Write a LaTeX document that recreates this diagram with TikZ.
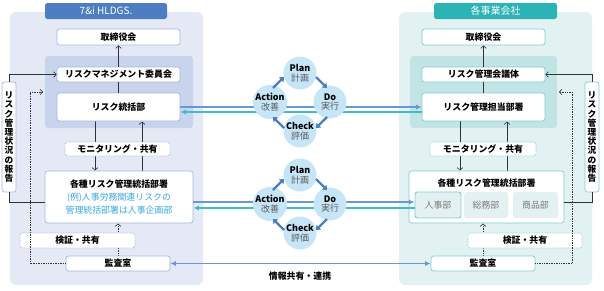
\documentclass[tikz,border=0pt]{standalone}
\usepackage{fontspec}
\setmainfont{Noto Sans CJK JP}
\usetikzlibrary{arrows.meta,calc}
\definecolor{hdblue}{HTML}{4D7EC1}
\definecolor{panelblue}{HTML}{E5E9F5}
\definecolor{innerblue}{HTML}{C8D3EC}
\definecolor{edgeblue}{HTML}{A3B8E0}
\definecolor{hdteal}{HTML}{2BB3B6}
\definecolor{panelteal}{HTML}{E2F2F2}
\definecolor{innerteal}{HTML}{C3E4E5}
\definecolor{edgeteal}{HTML}{7CCED2}
\definecolor{lineblue}{HTML}{6A95D6}
\definecolor{lineteal}{HTML}{3BBFC2}
\definecolor{pdfill}{HTML}{C6E6F8}
\definecolor{pdarrow}{HTML}{4A7FC4}
\definecolor{exblue}{HTML}{3AA8E2}
\definecolor{subfill}{HTML}{E4F1F2}
\definecolor{subtext}{HTML}{7A7A7A}
\pgfdeclarelayer{panel}
\pgfdeclarelayer{wire}
\pgfdeclarelayer{front}
\pgfsetlayers{panel,wire,main,front}

\tikzset{
  sz/.style 2 args={minimum width=#1pt,minimum height=#2pt},
  jtext/.style={font=\fontsize{8.9}{10}\selectfont\bfseries},
  boxL/.style={draw=edgeblue,fill=white,rounded corners=2.5pt,line width=0.7pt,inner sep=0pt,jtext},
  boxR/.style={draw=edgeteal,fill=white,rounded corners=2.5pt,line width=0.7pt,inner sep=0pt,jtext},
  dotL/.style={boxL,dash pattern=on 0.7pt off 0.9pt},
  dotR/.style={boxR,dash pattern=on 0.7pt off 0.9pt},
  header/.style={fill=#1,rounded corners=2.5pt,inner sep=0pt,text=white,font=\fontsize{10}{11}\selectfont},
  tate/.style={align=center,font=\fontsize{8.7}{9.2}\selectfont\bfseries},
  subbox/.style={fill=subfill,rounded corners=2.5pt,inner sep=0pt,text=subtext,font=\fontsize{8.9}{10}\selectfont},
  pdca/.style={circle,fill=pdfill,minimum size=33pt,inner sep=0pt,align=center,font=\fontsize{9}{9.6}\selectfont},
  pdarr/.style={draw=pdarrow,line width=2.3pt,-{Triangle[length=4pt,width=6.5pt]}},
  wire/.style={draw=black!80,line width=0.6pt},
  tip/.style={-{Straight Barb[length=2.6pt,width=5.5pt]}},
  dotwire/.style={wire,dash pattern=on 0.8pt off 0.9pt},
  blueline/.style={draw=lineblue,line width=1.1pt},
  tealline/.style={draw=lineteal,line width=1.1pt},
  filltip/.style={-{Latex[length=5.5pt,width=5pt]}}
}

\begin{document}
\begin{tikzpicture}[x=1pt,y=-1pt]
\useasboundingbox (0,0) rectangle (604,290);

% background panels
\begin{pgfonlayer}{panel}
  \fill[panelblue,rounded corners=6pt] (10,12) rectangle (203,285);
  \fill[innerblue,rounded corners=3pt] (45,56) rectangle (193,128);
  \fill[panelteal,rounded corners=6pt] (399,12) rectangle (592,285);
  \fill[innerteal,rounded corners=3pt] (410,56) rectangle (557,128);
\end{pgfonlayer}

% 7&i HLDGS.
\node[header=hdblue,sz={122}{16}] (hdrL) at (106,11) {7\&i HLDGS.};
\node[boxL,sz={123}{16}] (boardL) at (118.5,37) {取締役会};
\node[boxL,sz={123}{15}] (cmteL) at (118.5,74.5) {リスクマネジメント委員会};
\node[boxL,sz={123}{28}] (tokatsuL) at (118.5,107) {リスク統括部};
\node[dotL,sz={105}{14}] (monL) at (117.5,149) {モニタリング・共有};
\node[boxL,sz={148}{52},align=center,font=\fontsize{8.9}{13}\selectfont] (kakushuL) at (119,197)
  {\bfseries 各種リスク管理統括部署\\{\color{exblue}(例)人事労務関連リスクの}\\{\color{exblue}管理統括部署は人事企画部}};
\node[dotL,sz={115}{15}] (kenshoL) at (77.5,240.5) {検証・共有};
\node[boxL,sz={104}{15}] (kansaL) at (118,263.5) {監査室};
\node[boxL,sz={14}{110},tate] (reportL) at (9,137) {リ\\ス\\ク\\管\\理\\状\\況\\の\\報\\告};

% 各事業会社
\node[header=hdteal,sz={123}{16}] (hdrR) at (495.5,11) {各事業会社};
\node[boxR,sz={123}{16}] (boardR) at (483.5,37) {取締役会};
\node[boxR,sz={123}{15}] (cmteR) at (483.5,74.5) {リスク管理会議体};
\node[boxR,sz={123}{28}] (tantoR) at (483.5,107) {リスク管理担当部署};
\node[dotR,sz={106}{14}] (monR) at (483,149) {モニタリング・共有};
\node[boxR,sz={155}{52}] (kakushuR) at (486.5,197) {};
\node[jtext] (kakushuRt) at (486.5,183) {各種リスク管理統括部署};
\node[subbox,draw=edgeteal,line width=0.9pt,sz={46}{26}] (jinjiR) at (438,205) {人事部};
\node[subbox,sz={44}{26}] (somuR) at (486,205) {総務部};
\node[subbox,sz={45}{26}] (shohinR) at (535.5,205) {商品部};
\node[dotR,sz={114}{15}] (kenshoR) at (525,240.5) {検証・共有};
\node[boxR,sz={104}{15}] (kansaR) at (483,263.5) {監査室};
\node[boxR,sz={14}{110},tate] (reportR) at (592,137) {リ\\ス\\ク\\管\\理\\状\\況\\の\\報\\告};

\node[jtext] (joho) at (300,276) {情報共有・連携};

% connectors
\coordinate (xa) at (95,0);
\coordinate (xb) at (142,0);
\coordinate (xc) at (460,0);
\coordinate (xd) at (507,0);
\coordinate (dotLc) at (30,92);
\coordinate (dotLe) at (43,92);
\coordinate (dotRc) at (572,92);
\coordinate (dotRe) at (559,92);
\draw[wire,tip] (cmteL.north) -- (boardL.south);
\draw[wire] (tokatsuL.north) -- (cmteL.south);
\draw[wire,tip] (cmteR.north) -- (boardR.south);
\draw[wire] (tantoR.north) -- (cmteR.south);
\begin{pgfonlayer}{wire}
  \draw[wire,tip] (tokatsuL.south -| xa) -- (kakushuL.north -| xa);
  \draw[wire,tip] (kakushuL.north -| xb) -- (tokatsuL.south -| xb);
  \draw[dotwire,tip] (kansaL.north) -- (kakushuL.south -| kansaL.north);
  \draw[wire,tip] (tantoR.south -| xc) -- (kakushuR.north -| xc);
  \draw[wire,tip] (kakushuR.north -| xd) -- (tantoR.south -| xd);
  \draw[dotwire,tip] (kansaR.north) -- (kakushuR.south -| kansaR.north);
\end{pgfonlayer}
\draw[dotwire,tip] (kansaL.west) -| (dotLc) -- (dotLe);
\draw[dotwire,tip] (kansaR.east) -| (dotRc) -- (dotRe);
\draw[wire] ($(kakushuL.west)+(0,5)$) -| (reportL.south);
\draw[wire,tip] (reportL.north) |- (cmteL.west);
\draw[wire] ($(kakushuR.east)+(0,5)$) -| (reportR.south);
\draw[wire,tip] (reportR.north) |- (cmteR.east);

% information lines
\draw[blueline,filltip] (tokatsuL.east) -- (tantoR.west);
\draw[tealline,filltip] ($(tantoR.west)+(0,5)$) -- ($(tokatsuL.east)+(0,5)$);
\draw[blueline,filltip] ($(kakushuL.east)+(0,5)$) -- ($(jinjiR.west)+(0,-3)$);
\draw[tealline,filltip] ($(jinjiR.west)+(0,3)$) -- ($(kakushuL.east)+(0,11)$);
\draw[blueline,{Latex[length=5.5pt,width=5pt]}-{Latex[length=5.5pt,width=5pt]}] (kansaL.east) -- (kansaR.west);

% PDCA cycles
\begin{pgfonlayer}{front}
\foreach \i/\dy in {1/0,2/102}{
  \node[pdca] (plan\i) at (300,73+\dy) {\textbf{Plan}\\{\color{black!65}計画}};
  \node[pdca] (do\i) at (330,102+\dy) {\textbf{Do}\\{\color{black!65}実行}};
  \node[pdca] (check\i) at (300,131+\dy) {\textbf{Check}\\{\color{black!65}評価}};
  \node[pdca] (action\i) at (270,102+\dy) {\textbf{Action}\\{\color{black!65}改善}};
  \draw[pdarr] ($(plan\i)+(16,4)$) -- ($(do\i)+(-3,-14)$);
  \draw[pdarr] ($(do\i)+(-3,15)$) -- ($(check\i)+(16,-3)$);
  \draw[pdarr] ($(check\i)+(-16,-3)$) -- ($(action\i)+(3,15)$);
  \draw[pdarr] ($(action\i)+(3,-14)$) -- ($(plan\i)+(-16,4)$);
}
\end{pgfonlayer}
\end{tikzpicture}
\end{document}
